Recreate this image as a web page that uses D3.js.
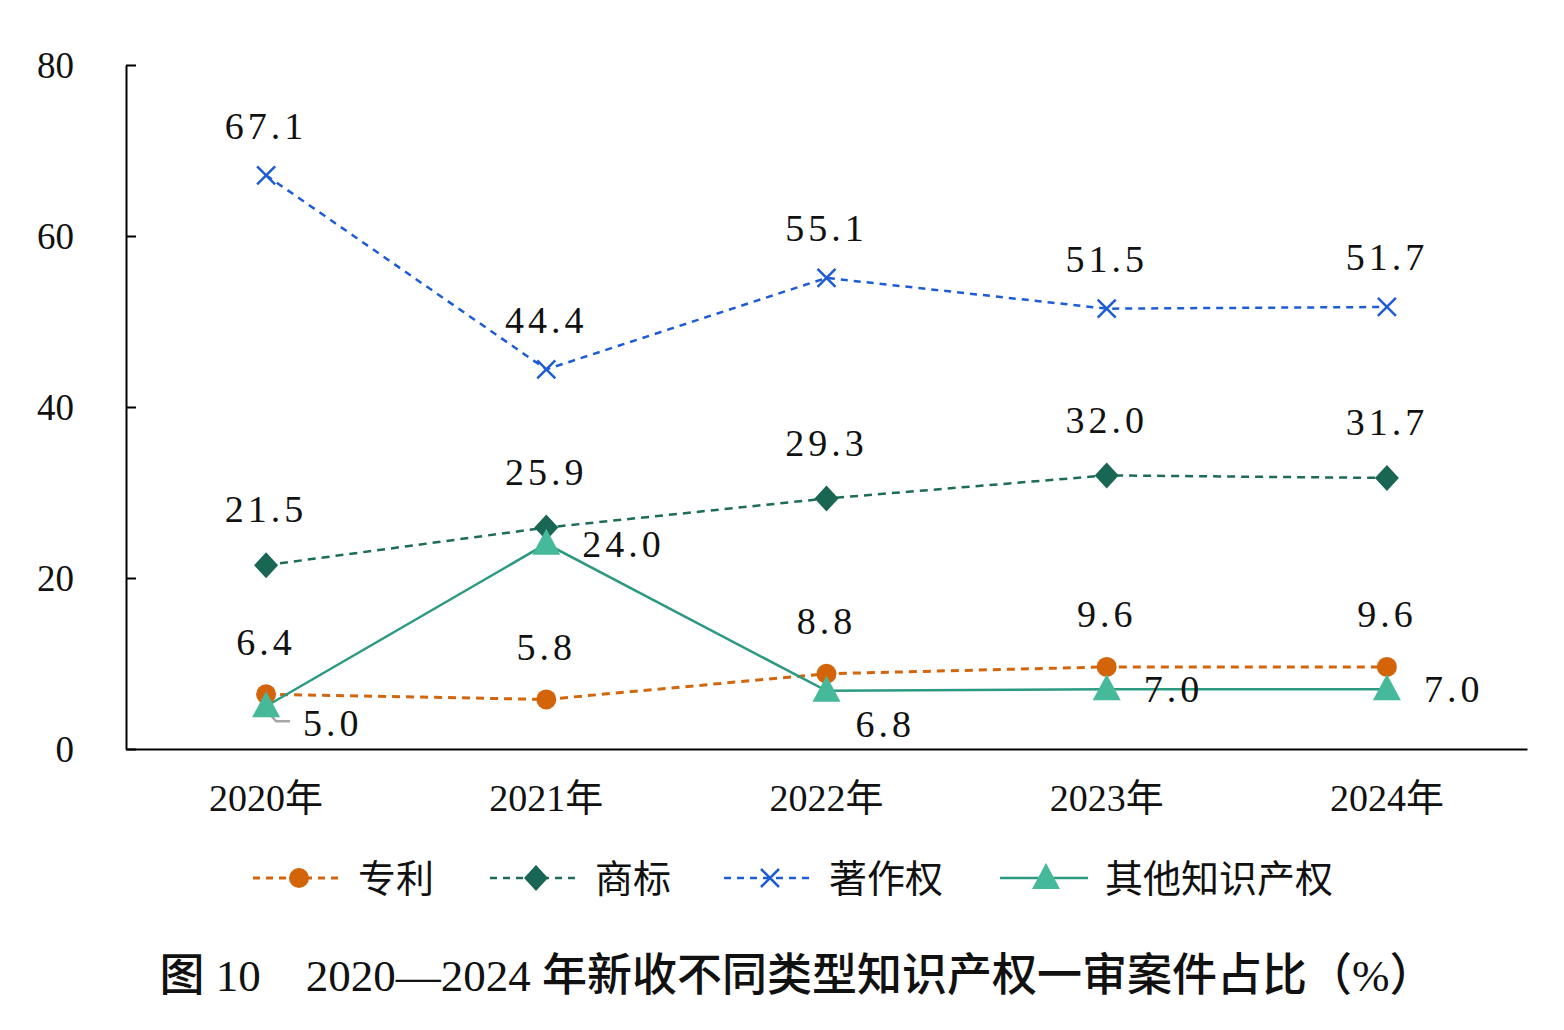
<!DOCTYPE html>
<html><head><meta charset="utf-8">
<script src="https://cdn.jsdelivr.net/npm/d3@7"></script>
<style>body{margin:0;background:#fff}</style>
</head><body>
<script>
const years = ["2020年","2021年","2022年","2023年","2024年"];
const patent = [6.4, 5.8, 8.8, 9.6, 9.6];
const trademark = [21.5, 25.9, 29.3, 32.0, 31.7];
const copyright = [67.1, 44.4, 55.1, 51.5, 51.7];
const other = [5.0, 24.0, 6.8, 7.0, 7.0];
const yTicks = [0, 20, 40, 60, 80];
const seriesNames = ["专利","商标","著作权","其他知识产权"];
const chartTitle = "图 10　2020—2024 年新收不同类型知识产权一审案件占比（%）";

(function () {
const W = 1564, H = 1030;
const svg = d3.select("body").append("svg").attr("width", W).attr("height", H);
const pLeft = 126, pRight = 1527, pTop = 65, pBottom = 749;
const x = d3.scaleBand().domain(years).range([pLeft, pRight]);
const cx = d => x(d) + x.bandwidth() / 2;
const y = d3.scaleLinear().domain([0, 80]).range([pBottom, pTop]);
const numFont = "'Liberation Serif', 'Noto Sans CJK SC', serif";

// axes
const yAxis = d3.axisLeft(y).tickValues(yTicks).tickSizeInner(-10).tickSizeOuter(0).tickPadding(52);
const gy = svg.append("g").attr("transform", `translate(${pLeft},0)`).call(yAxis);
gy.select(".domain").attr("stroke", "#000").attr("stroke-width", 2);
gy.selectAll(".tick line").attr("stroke", "#000").attr("stroke-width", 2);
gy.selectAll(".tick text").attr("font-family", numFont).attr("font-size", 37).attr("fill", "#111").attr("dy", "0.35em");

const xAxis = d3.axisBottom(x).tickSize(0).tickPadding(30);
const gx = svg.append("g").attr("transform", `translate(0,${pBottom})`).call(xAxis);
gx.select(".domain").attr("stroke", "#000").attr("stroke-width", 2);
gx.selectAll(".tick text").attr("font-family", numFont).attr("font-size", 38).attr("fill", "#111").attr("dy", "0.85em");

const series = [
  {name: seriesNames[0], data: patent, line: "#D2660C", fill: "#D4640A", dash: "8,6", w: 3, marker: "circle", lab: "above", off: 53},
  {name: seriesNames[1], data: trademark, line: "#1D6B58", fill: "#1A6655", dash: "8,6", w: 2.5, marker: "diamond", lab: "above", off: 56},
  {name: seriesNames[2], data: copyright, line: "#1E5CD6", fill: "#1E5CD6", dash: "7,6", w: 2.5, marker: "x", lab: "above", off: 50},
  {name: seriesNames[3], data: other, line: "#2C9A80", fill: "#45B999", dash: null, w: 2.5, marker: "triangle", lab: "right", off: 0}
];

function drawMarker(g, type, s, px, py) {
  if (type === "circle") g.append("circle").attr("cx", px).attr("cy", py).attr("r", 10).attr("fill", s.fill);
  else if (type === "diamond") g.append("path").attr("d", `M${px},${py-13}L${px+12},${py}L${px},${py+13}L${px-12},${py}Z`).attr("fill", s.fill);
  else if (type === "x") g.append("path").attr("d", `M${px-9},${py-9}L${px+9},${py+9}M${px+9},${py-9}L${px-9},${py+9}`)
      .attr("stroke", s.fill).attr("stroke-width", 2.5).attr("fill", "none");
  else if (type === "triangle") g.append("path").attr("d", `M${px},${py-15}L${px+14},${py+11}L${px-14},${py+11}Z`).attr("fill", s.fill);
}

const line = d3.line().x((d, i) => cx(years[i])).y(d => y(d));
series.forEach(s => {
  svg.append("path").datum(s.data).attr("d", line).attr("fill", "none")
    .attr("stroke", s.line).attr("stroke-width", s.w).attr("stroke-dasharray", s.dash);
});
// leader line for first "other" label
const lx = cx(years[0]), ly = y(other[0]);
svg.append("path").attr("d", `M${lx},${ly+4}L${lx+10},${ly+15}L${lx+24},${ly+15}`)
  .attr("fill", "none").attr("stroke", "#A6A6A6").attr("stroke-width", 2.5);
series.forEach(s => {
  const g = svg.append("g");
  s.data.forEach((v, i) => drawMarker(g, s.marker, s, cx(years[i]), y(v)));
});

// labels
const fmt = d3.format(".1f");
series.forEach(s => {
  s.data.forEach((v, i) => {
    let tx = cx(years[i]), ty = y(v) - s.off, anchor = "middle";
    if (s.lab === "right") {
      anchor = "start";
      if (i === 0) { tx += 37; ty += 16; }
      else if (i === 1) { tx += 36; }
      else if (i === 2) { tx += 29; ty += 33; }
      else { tx += 37; }
    }
    svg.append("text").attr("x", tx).attr("y", ty).attr("dy", "0.35em")
      .attr("text-anchor", anchor).attr("font-family", numFont).attr("font-size", 38)
      .attr("letter-spacing", 4).attr("fill", "#111").text(fmt(v));
  });
});

// legend
const legX = [253, 490, 724, 1000];
const legY = 878;
series.forEach((s, k) => {
  const g = svg.append("g");
  const x0 = legX[k], len = 88;
  g.append("line").attr("x1", x0).attr("x2", x0 + len).attr("y1", legY).attr("y2", legY)
    .attr("stroke", s.line).attr("stroke-width", s.w).attr("stroke-dasharray", s.dash ? "7,6" : null);
  drawMarker(g, s.marker, s, x0 + len / 2 + 2, legY);
  g.append("text").attr("x", x0 + len + 17).attr("y", legY).attr("dy", "0.36em")
    .attr("font-family", "'Noto Sans CJK SC', sans-serif").attr("font-size", 38).attr("fill", "#111").text(s.name);
});

// title
svg.append("text").attr("x", 797).attr("y", 975).attr("dy", "0.36em").attr("text-anchor", "middle")
  .attr("font-family", numFont).attr("font-weight", 500).attr("font-size", 45).attr("fill", "#111").text(chartTitle);
})();
</script>
</body></html>
